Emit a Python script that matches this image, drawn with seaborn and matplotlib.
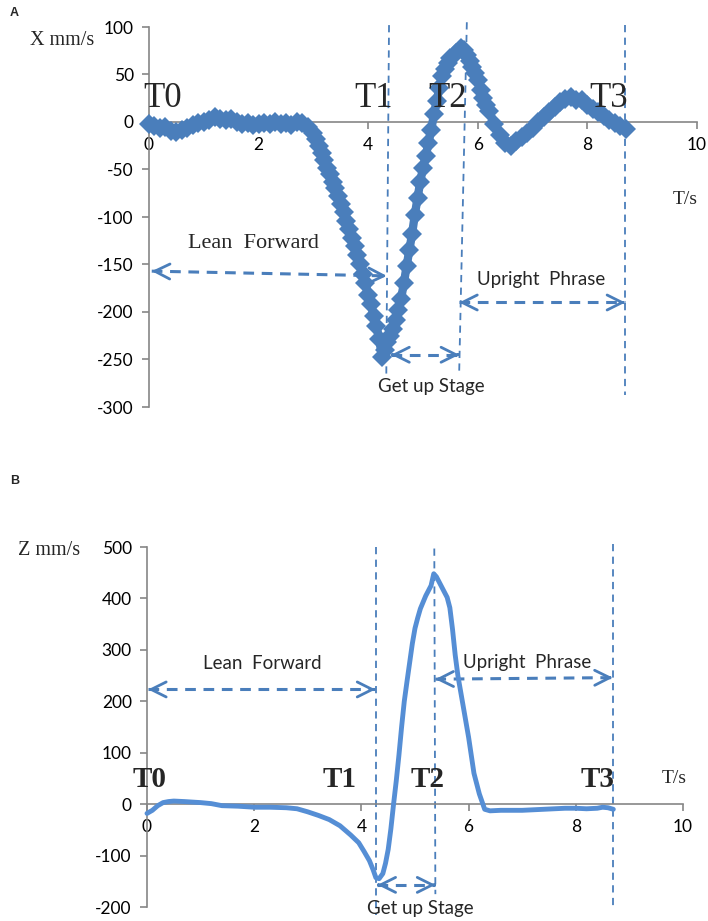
import numpy as np
import pandas as pd
import matplotlib
matplotlib.use("Agg")
import matplotlib.pyplot as plt
import seaborn as sns

# ---------------- data ----------------
t_x = [0.0, 0.1, 0.2, 0.3, 0.4, 0.5, 0.6, 0.7, 0.8, 0.9, 1.0, 1.1, 1.2, 1.3, 1.4,
       1.5, 1.6, 1.7, 1.8, 1.9, 2.0, 2.1, 2.2, 2.3, 2.4, 2.5, 2.6, 2.7, 2.8, 2.9,
       3.0, 3.05, 3.1, 3.15, 3.2, 3.25, 3.3, 3.35, 3.4, 3.45, 3.5, 3.55, 3.6, 3.65,
       3.7, 3.75, 3.8, 3.85, 3.9, 3.95, 4.0, 4.05, 4.1, 4.15, 4.2, 4.25, 4.3, 4.35,
       4.4, 4.45, 4.5, 4.55, 4.6, 4.65, 4.7, 4.75, 4.8, 4.85, 4.9, 4.95, 5.0, 5.05,
       5.1, 5.15, 5.2, 5.25, 5.3, 5.35, 5.4, 5.45, 5.5, 5.6, 5.7, 5.75, 5.8, 5.85,
       5.9, 5.95, 6.0, 6.05, 6.1, 6.15, 6.2, 6.3, 6.4, 6.5, 6.6, 6.7, 6.8, 6.9,
       7.0, 7.1, 7.2, 7.3, 7.4, 7.5, 7.6, 7.7, 7.8, 7.9, 8.0, 8.1, 8.2, 8.3, 8.4,
       8.5, 8.6, 8.7]
x_vel = [-2, -4, -6, -5, -9, -11, -8, -6, -3, -1, 0, 2, 5, 3, 2,
         3, 0, -2, -1, -3, -2, -1, -2, 0, -2, -1, -3, 0, -1, -5,
         -12, -18, -25, -33, -40, -48, -55, -63, -70, -78, -86, -95, -104, -113,
         -122, -131, -140, -150, -160, -170, -182, -192, -204, -215, -228, -247, -240, -232,
         -225, -218, -208, -198, -186, -170, -152, -135, -118, -98, -80, -63, -48, -36,
         -22, -8, 8, 22, 36, 48, 56, 62, 67, 73, 78, 76, 70, 64,
         58, 52, 44, 34, 25, 18, 12, -2, -14, -22, -25, -20, -16, -12,
         -6, 0, 5, 10, 16, 21, 24, 26, 23, 23, 18, 14, 10, 6, 2,
         -1, -4, -7]

t_z = [0, 0.1, 0.2, 0.3, 0.4, 0.5, 0.7, 1.0, 1.2, 1.4, 1.7, 2.0, 2.3, 2.6, 2.8,
       3.0, 3.2, 3.4, 3.6, 3.8, 3.95, 4.05, 4.15, 4.22, 4.27, 4.33, 4.4, 4.45,
       4.5, 4.55, 4.6, 4.65, 4.7, 4.75, 4.8, 4.85, 4.9, 4.95, 5.0, 5.05, 5.1,
       5.2, 5.3, 5.35, 5.4, 5.45, 5.5, 5.55, 5.6, 5.65, 5.7, 5.75, 5.8, 5.9,
       6.0, 6.1, 6.2, 6.3, 6.4, 6.6, 7.0, 7.4, 7.8, 8.0, 8.2, 8.4, 8.5, 8.6, 8.7]
z_vel = [-18, -12, -3, 3, 5, 6, 5, 3, 1, -3, -4, -6, -6, -7, -9,
         -15, -22, -30, -42, -60, -75, -92, -110, -128, -143, -145, -135, -115,
         -88, -48, 0, 45, 95, 150, 200, 238, 275, 312, 342, 362, 380,
         405, 425, 448, 442, 432, 422, 412, 402, 382, 340, 290, 250, 190,
         130, 60, 20, -10, -13, -12, -12, -10, -8, -8, -9, -8, -6, -7, -10]

x_ticks = [0, 2, 4, 6, 8, 10]
yticks_a = [-300, -250, -200, -150, -100, -50, 0, 50, 100]
yticks_b = [-200, -100, 0, 100, 200, 300, 400, 500]
phase_labels = ["T0", "T1", "T2", "T3"]
stage_labels = ["Lean  Forward", "Get up Stage", "Upright  Phrase"]

# ---------------- style ----------------
sns.set_theme(style="white")
plt.rcParams['font.family'] = ['Lato', 'DejaVu Sans']
plt.rcParams['axes.unicode_minus'] = False

W, H = 708, 921
fig = plt.figure(figsize=(W / 100, H / 100), dpi=100)

axA = fig.add_axes([149 / W, 1 - 407 / H, (697 - 149) / W, (407 - 27) / H])
axB = fig.add_axes([147 / W, 1 - 907 / H, (683 - 147) / W, (907 - 547) / H])

GRAY = "#868686"
MARK = "#4A7EBB"
ZLINE = "#558ED5"
DASH = "#4A7EBB"
SERIF = ["Liberation Serif", "DejaVu Serif"]

def style_axes(ax, yticks):
    ax.set_xlim(0, 10)
    ax.set_ylim(yticks[0], yticks[-1])
    for s in ["top", "right"]:
        ax.spines[s].set_visible(False)
    ax.spines["left"].set_color(GRAY)
    ax.spines["bottom"].set_color(GRAY)
    ax.spines["left"].set_linewidth(1.2)
    ax.spines["bottom"].set_linewidth(1.2)
    ax.spines["bottom"].set_position(("data", 0))
    ax.set_xticks(x_ticks)
    ax.set_yticks(yticks)
    ax.tick_params(axis="both", direction="out", length=5, width=1.2, color=GRAY,
                   labelsize=12.5, labelcolor="black", bottom=True, left=True)
    ax.tick_params(axis="x", pad=6)
    ax.tick_params(axis="y", pad=6)
    ax.set_xlabel("")
    ax.set_ylabel("")
    ax.grid(False)
    ax.patch.set_alpha(0)

def vline(ax, x0, y0, x1, y1):
    ax.plot([x0, x1], [y0, y1], color=DASH, lw=1.3, ls=(0, (4, 3)), clip_on=False, zorder=1)

def darrow(ax, x0, y0, x1, y1):
    ax.plot([x0, x1], [y0, y1], color=DASH, lw=2.2, ls=(0, (3.5, 2.5)), clip_on=False, zorder=1)
    dx = (x1 - x0) * 0.02
    dy = (y1 - y0) * 0.02
    for (xa, ya, xb, yb) in [(x0, y0, x0 + dx, y0 + dy), (x1, y1, x1 - dx, y1 - dy)]:
        ax.annotate("", xy=(xa, ya), xytext=(xb, yb),
                    arrowprops=dict(arrowstyle="->,head_length=0.9,head_width=0.45",
                                    color=DASH, lw=2.0, shrinkA=0, shrinkB=0),
                    annotation_clip=False)

# ---------------- panel A ----------------
dfA = pd.DataFrame({"t": t_x, "v": x_vel})
sns.lineplot(data=dfA, x="t", y="v", ax=axA, color=MARK, linewidth=6, marker="D",
             markersize=10.5, markeredgewidth=0, clip_on=False, zorder=3)
style_axes(axA, yticks_a)

vline(axA, 4.38, 102, 4.33, -268)
vline(axA, 5.80, 105, 5.66, -264)
vline(axA, 8.69, 102, 8.69, -287)
darrow(axA, 0.05, -157, 4.34, -162)
darrow(axA, 4.42, -245, 5.66, -245)
darrow(axA, 5.66, -190, 8.69, -190)

axA.text(0.25, 25, phase_labels[0], fontsize=25, family=SERIF, ha="center", va="center")
axA.text(4.09, 25, phase_labels[1], fontsize=25, family=SERIF, ha="center", va="center")
axA.text(5.45, 25, phase_labels[2], fontsize=25, family=SERIF, ha="center", va="center")
axA.text(8.38, 25, phase_labels[3], fontsize=25, family=SERIF, ha="center", va="center")
axA.text(1.9, -128, stage_labels[0], fontsize=16, family=SERIF, ha="center", va="center")
axA.text(5.15, -278, stage_labels[1], fontsize=13.5, ha="center", va="center")
axA.text(7.15, -166, stage_labels[2], fontsize=13.5, ha="center", va="center")
axA.text(9.78, -82, "T/s", fontsize=14, family=SERIF, ha="center", va="center")
axA.text(-1.59, 86, "X mm/s", fontsize=14.5, family=SERIF, ha="center", va="center")

# ---------------- panel B ----------------
dfB = pd.DataFrame({"t": t_z, "v": z_vel})
sns.lineplot(data=dfB, x="t", y="v", ax=axB, color=ZLINE, linewidth=3.5, clip_on=False, zorder=3)
style_axes(axB, yticks_b)

vline(axB, 4.27, 500, 4.27, -215)
vline(axB, 5.36, 497, 5.38, -175)
vline(axB, 8.69, 505, 8.69, -202)
darrow(axB, 0.02, 223, 4.26, 223)
darrow(axB, 4.30, -157, 5.38, -157)
darrow(axB, 5.38, 243, 8.69, 246)

axB.text(0.04, 47, phase_labels[0], fontsize=21, family=SERIF, weight="bold", ha="center", va="center")
axB.text(3.6, 47, phase_labels[1], fontsize=21, family=SERIF, weight="bold", ha="center", va="center")
axB.text(5.23, 47, phase_labels[2], fontsize=21, family=SERIF, weight="bold", ha="center", va="center")
axB.text(8.4, 47, phase_labels[3], fontsize=21, family=SERIF, weight="bold", ha="center", va="center")
axB.text(2.15, 274, stage_labels[0], fontsize=13.5, ha="center", va="center")
axB.text(5.1, -202, stage_labels[1], fontsize=13.5, ha="center", va="center")
axB.text(7.1, 276, stage_labels[2], fontsize=13.5, ha="center", va="center")
axB.text(9.83, 49, "T/s", fontsize=14, family=SERIF, ha="center", va="center")
axB.text(-1.83, 493, "Z mm/s", fontsize=14.5, family=SERIF, ha="center", va="center")

fig.text(10 / W, 1 - 13 / H, "A", fontsize=9, weight="bold", family=["Liberation Sans", "DejaVu Sans"],
         ha="left", va="center")
fig.text(10 / W, 1 - 481 / H, "B", fontsize=9, weight="bold", family=["Liberation Sans", "DejaVu Sans"],
         ha="left", va="center")

fig.savefig("out.png", dpi=100)
